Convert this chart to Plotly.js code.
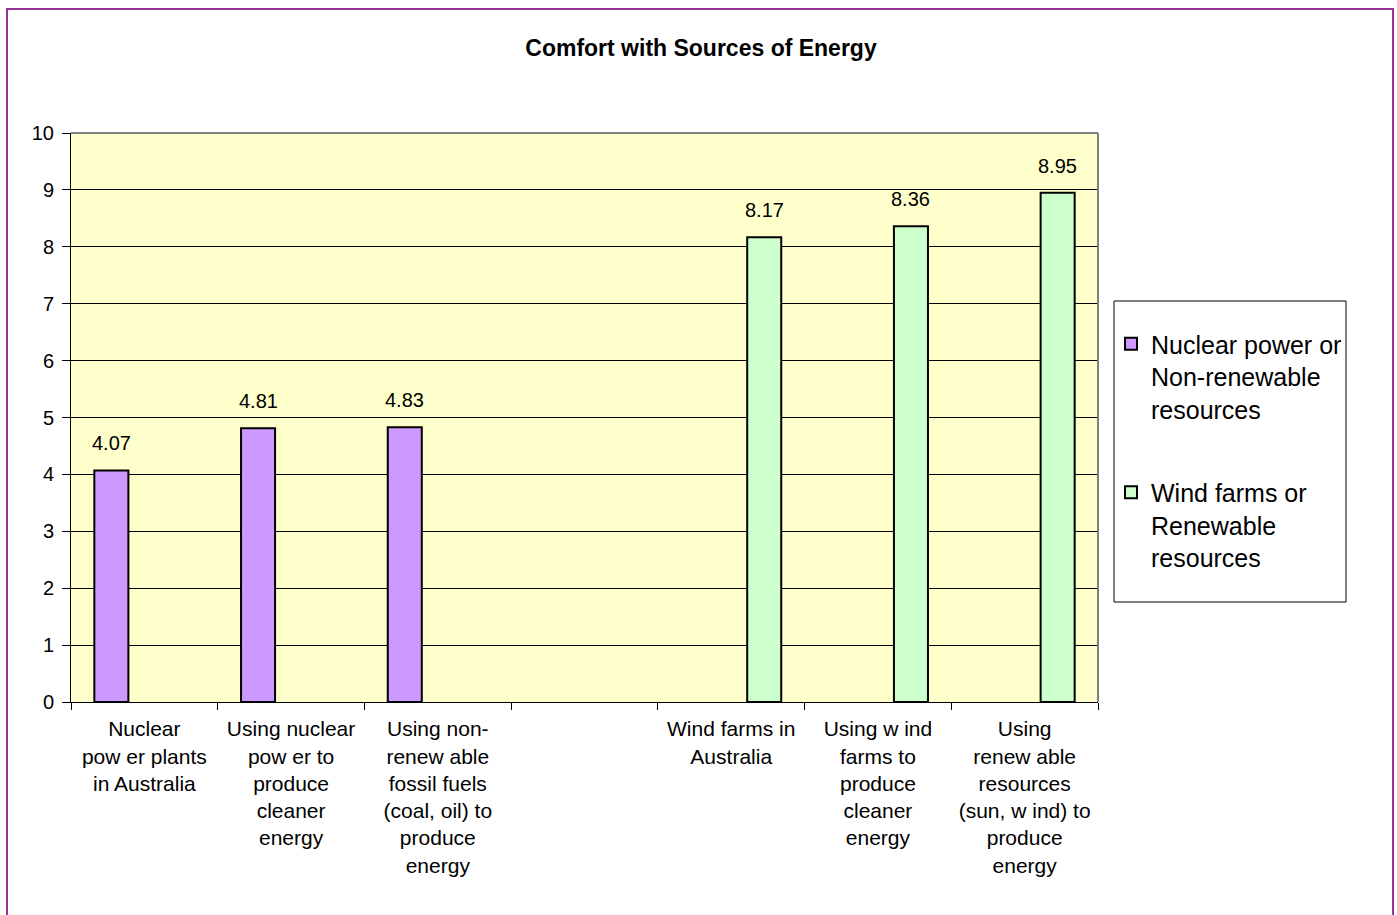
<!DOCTYPE html>
<html>
<head>
<meta charset="utf-8">
<script src="https://cdn.plot.ly/plotly-3.0.1.min.js"></script>
<style>
  html, body { margin: 0; padding: 0; background: #ffffff; }
  #chart { width: 1397px; height: 915px; }
</style>
</head>
<body>
<div id="chart"></div>
<script>
// ---- data ----
const categories = ["c1", "c2", "c3", "c4", "c5", "c6", "c7"];
const tickLabels = [
  "Nuclear<br>pow er plants<br>in Australia",
  "Using nuclear<br>pow er to<br>produce<br>cleaner<br>energy",
  "Using non-<br>renew able<br>fossil fuels<br>(coal, oil) to<br>produce<br>energy",
  "",
  "Wind farms in<br>Australia",
  "Using w ind<br>farms to<br>produce<br>cleaner<br>energy",
  "Using<br>renew able<br>resources<br>(sun, w ind) to<br>produce<br>energy"
];
const nuclearName = "Nuclear power or<br>Non-renewable<br>resources";
const windName = "Wind farms or<br>Renewable<br>resources";
const nuclearValues = [4.07, 4.81, 4.83, null, null, null, null];
const windValues = [null, null, null, null, 8.17, 8.36, 8.95];
const yTicks = [0, 1, 2, 3, 4, 5, 6, 7, 8, 9, 10];
const titleText = "Comfort with Sources of Energy";

// ---- styling ----
const FONT = "Liberation Sans, Arial, Helvetica, sans-serif";
const barWidth = 0.232;
const nuclearOffset = -0.341;
const windOffset = 0.109;

const traces = [
  {
    type: "bar", name: nuclearName, x: categories, y: nuclearValues,
    width: barWidth, offset: nuclearOffset, legendgroup: "a",
    marker: { color: "#CC99FF", line: { color: "#000000", width: 2 } },
    hoverinfo: "y"
  },
  {
    type: "bar", name: windName, x: categories, y: windValues,
    width: barWidth, offset: windOffset, legendgroup: "b",
    marker: { color: "#CCFFCC", line: { color: "#000000", width: 2 } },
    hoverinfo: "y"
  }
];

const annotations = [];
function addLabels(vals, off) {
  vals.forEach((v, i) => {
    if (v === null) return;
    annotations.push({
      x: i + off + barWidth / 2, y: v, xref: "x", yref: "y",
      text: v.toFixed(2), showarrow: false, yanchor: "bottom", yshift: 14,
      font: { family: FONT, size: 20, color: "#000" }
    });
  });
}
addLabels(nuclearValues, nuclearOffset);
addLabels(windValues, windOffset);

const L = 71, R = 299, T = 133, B = 213, W = 1397, H = 915;
const pw = W - L - R, ph = H - T - B;
const px = v => (v - L) / pw;
const py = v => (H - B - v) / ph;

const shapes = [
  // plot area top & right frame (gray)
  { type: "line", xref: "paper", yref: "paper", x0: 0, x1: 1, y0: 1, y1: 1, line: { color: "#808080", width: 2 }, layer: "above" },
  { type: "line", xref: "paper", yref: "paper", x0: 1, x1: 1, y0: 0, y1: 1, line: { color: "#808080", width: 2 }, layer: "above" },
  // legend box
  { type: "rect", xref: "paper", yref: "paper", x0: px(1114), x1: px(1346), y0: py(602), y1: py(301),
    line: { color: "#000000", width: 1 }, fillcolor: "#ffffff", layer: "above" },
  // outer purple border
  { type: "rect", xref: "paper", yref: "paper", x0: px(7), x1: px(1393), y0: py(930), y1: py(9),
    line: { color: "#993399", width: 2 }, fillcolor: "rgba(0,0,0,0)", layer: "above" }
];

const layout = {
  width: W, height: H,
  margin: { l: L, r: R, t: T, b: B, pad: 0 },
  paper_bgcolor: "#ffffff",
  plot_bgcolor: "#FFFFCC",
  font: { family: FONT, color: "#000" },
  title: {
    text: "<b>" + titleText + "</b>",
    x: 701 / W, xref: "container", xanchor: "center",
    y: 1 - 48 / H, yref: "container", yanchor: "middle",
    font: { family: FONT, size: 23, color: "#000" }
  },
  barmode: "overlay",
  showlegend: true,
  legend: {
    x: px(1111), y: py(321), xanchor: "left", yanchor: "top",
    bgcolor: "rgba(0,0,0,0)", borderwidth: 0,
    font: { family: FONT, size: 25, color: "#000" },
    valign: "top", traceorder: "grouped", tracegroupgap: 48
  },
  xaxis: {
    type: "category", categoryorder: "array", categoryarray: categories,
    tickvals: categories, ticktext: tickLabels,
    range: [-0.5, 6.5],
    showline: true, linecolor: "#000", linewidth: 1,
    ticks: "outside", tickson: "boundaries", ticklen: 7, tickcolor: "#000", tickwidth: 1,
    showgrid: false, zeroline: false,
    tickfont: { family: FONT, size: 21, color: "#000" },
    ticklabelstandoff: 8,
    fixedrange: true
  },
  yaxis: {
    range: [0, 10], tickvals: yTicks, ticktext: yTicks.map(String),
    showline: true, linecolor: "#000", linewidth: 1,
    ticks: "outside", ticklen: 8, tickcolor: "#000", tickwidth: 1,
    showgrid: true, gridcolor: "#000", gridwidth: 1,
    zeroline: false,
    tickfont: { family: FONT, size: 20, color: "#000" },
    ticklabelstandoff: 4,
    fixedrange: true
  },
  annotations: annotations,
  shapes: shapes
};

Plotly.newPlot("chart", traces, layout, { displayModeBar: false, staticPlot: true });
</script>
</body>
</html>
